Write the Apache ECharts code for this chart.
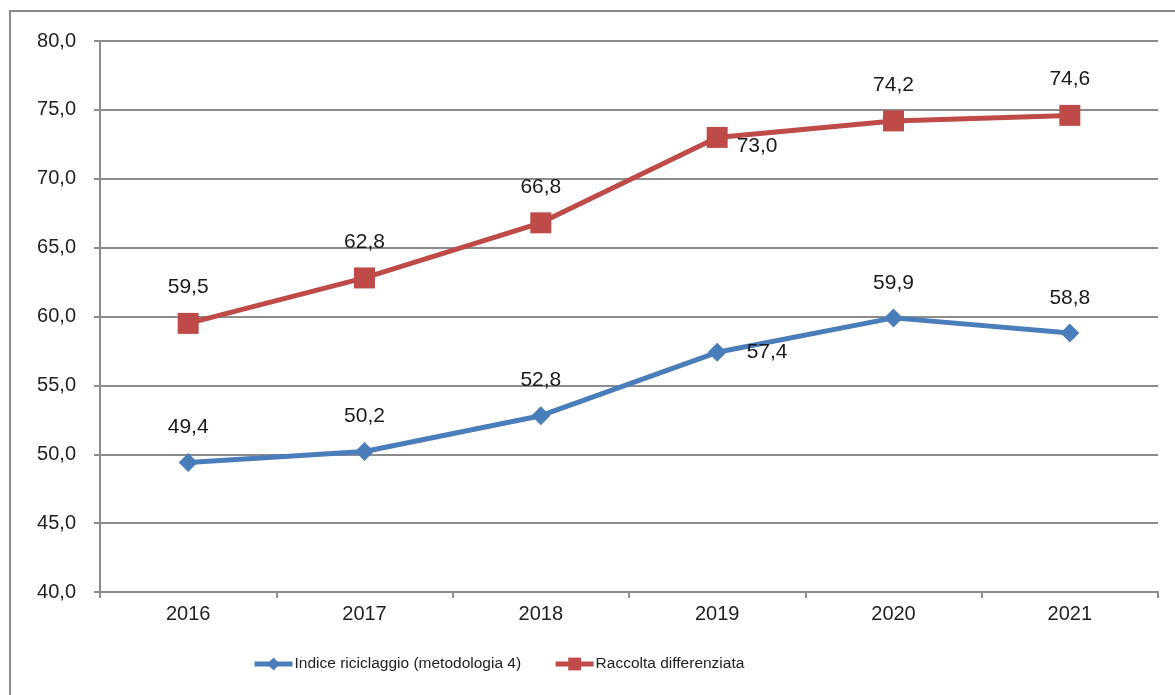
<!DOCTYPE html>
<html><head><meta charset="utf-8">
<script src="https://cdn.jsdelivr.net/npm/echarts@6/dist/echarts.min.js"></script>
<style>html,body{margin:0;padding:0;background:#fff}#c{width:1175px;height:695px}</style>
</head><body><div id="c"></div>
<script>
const categories = ['2016','2017','2018','2019','2020','2021'];
const indiceRiciclaggio = [49.4, 50.2, 52.8, 57.4, 59.9, 58.8];
const raccoltaDifferenziata = [59.5, 62.8, 66.8, 73.0, 74.2, 74.6];
const seriesNames = ['Indice riciclaggio (metodologia 4)', 'Raccolta differenziata'];
const yTicks = {min: 40, max: 80, interval: 5};

const fmt = v => v.toFixed(1).replace('.', ',');
const FONT = 'Liberation Sans, Arial, sans-serif';
const chart = echarts.init(document.getElementById('c'));

function labelFor(i, rightIdx, rightOffset) {
  if (i === rightIdx) return {position: 'right', distance: rightOffset[0], offset: [0, rightOffset[1]]};
  return {position: 'top', distance: 15};
}

chart.setOption({
  animation: false,
  backgroundColor: '#fff',
  graphic: [{type: 'rect', shape: {x: 10, y: 11, width: 1200, height: 720},
    style: {fill: 'none', stroke: '#8a8a8a', lineWidth: 2}, silent: true, z: -1}],
  grid: {left: 100, right: 17, top: 41, bottom: 103, containLabel: false},
  legend: {
    left: 252, top: 656, padding: 0, itemWidth: 38, itemHeight: 16, itemGap: 32,
    lineStyle: {width: 5},
    textStyle: {fontFamily: FONT, fontSize: 15.5, color: '#222', padding: [0,0,0,-3]},
    data: seriesNames
  },
  xAxis: {
    type: 'category', data: categories, boundaryGap: true,
    axisLine: {lineStyle: {color: '#8c8c8c', width: 2}},
    axisTick: {show: true, length: 6, lineStyle: {color: '#8c8c8c', width: 2}},
    axisLabel: {fontFamily: FONT, fontSize: 20, color: '#222', margin: 12}
  },
  yAxis: {
    type: 'value', min: yTicks.min, max: yTicks.max, interval: yTicks.interval,
    axisLine: {show: true, lineStyle: {color: '#8c8c8c', width: 2}},
    axisTick: {show: true, length: 6, lineStyle: {color: '#8c8c8c', width: 2}},
    splitLine: {lineStyle: {color: '#8c8c8c', width: 2}},
    axisLabel: {fontFamily: FONT, fontSize: 20, color: '#222', margin: 24, formatter: v => fmt(v)}
  },
  series: [
    {
      name: seriesNames[0], type: 'line',
      data: indiceRiciclaggio.map((v, i) => ({value: v, label: labelFor(i, 3, [20, 0])})),
      symbol: 'diamond', symbolSize: 19,
      lineStyle: {color: '#4a7ebb', width: 5}, itemStyle: {color: '#4a7ebb'},
      label: {show: true, fontFamily: FONT, fontSize: 21, color: '#1a1a1a', formatter: p => fmt(p.value)}
    },
    {
      name: seriesNames[1], type: 'line',
      data: raccoltaDifferenziata.map((v, i) => ({value: v, label: labelFor(i, 3, [9, 9])})),
      symbol: 'rect', symbolSize: 21,
      lineStyle: {color: '#be4b48', width: 5}, itemStyle: {color: '#be4b48'},
      label: {show: true, fontFamily: FONT, fontSize: 21, color: '#1a1a1a', formatter: p => fmt(p.value)}
    }
  ]
});
</script></body></html>
